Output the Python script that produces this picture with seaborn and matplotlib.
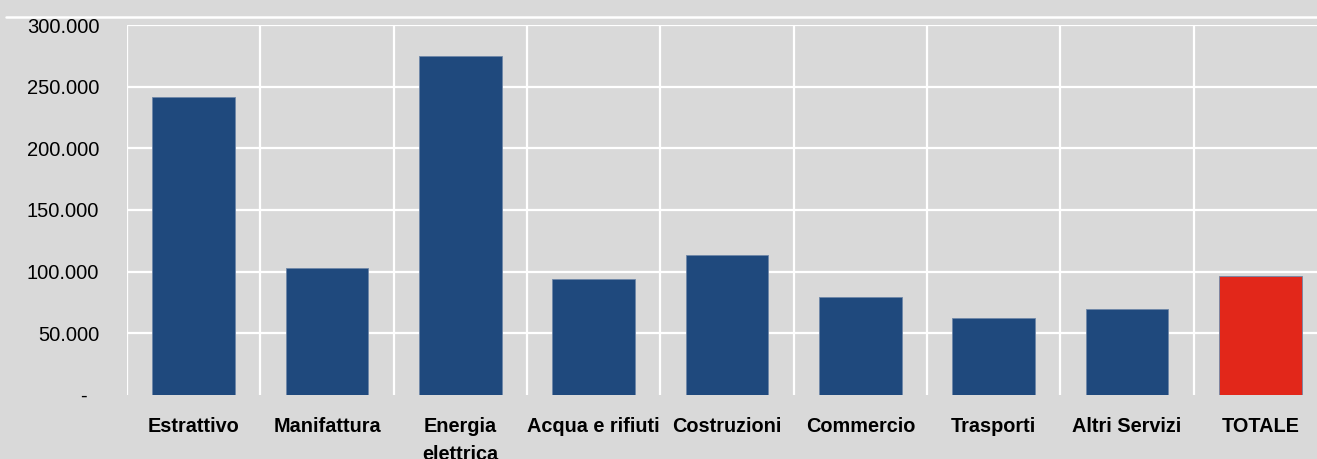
import matplotlib
matplotlib.use("Agg")
import matplotlib.pyplot as plt
from matplotlib.lines import Line2D
from matplotlib.ticker import FixedLocator
import seaborn as sns
import pandas as pd

categories = ["Estrattivo", "Manifattura", "Energia\nelettrica", "Acqua e rifiuti",
              "Costruzioni", "Commercio", "Trasporti", "Altri Servizi", "TOTALE"]
values = [241500, 103200, 275100, 94000, 113700, 79200, 62600, 69900, 96500]
bar_colors = ["#1F497D"] * 8 + ["#E2271A"]
y_ticks = [0, 50000, 100000, 150000, 200000, 250000, 300000]
y_tick_labels = ["-  ", "50.000", "100.000", "150.000", "200.000", "250.000", "300.000"]

BG = "#D9D9D9"
sns.set_theme(style="white")
plt.rcParams["font.family"] = ["Liberation Sans Narrow", "Liberation Sans", "DejaVu Sans"]

df = pd.DataFrame({"cat": categories, "val": values})

fig = plt.figure(figsize=(13.17, 4.59), dpi=100, facecolor=BG)
ax = fig.add_axes([127 / 1317, 1 - 394.8 / 459, 1200 / 1317, (394.8 - 25) / 459])
ax.set_facecolor(BG)

sns.barplot(data=df, x="cat", y="val", hue="cat", palette=bar_colors, legend=False,
            width=0.62, edgecolor="#6F87A8", linewidth=0.6, saturation=1, ax=ax)

ax.set_ylim(0, 300000)
ax.set_xlim(-0.5, len(categories) - 0.5)
ax.set_yticks(y_ticks)
ax.set_yticklabels(y_tick_labels, fontsize=14.5, color="black")
ax.set_xticks(range(len(categories)))
ax.set_xticklabels(categories, fontsize=14.3, fontweight="bold", color="black",
                   linespacing=1.6, va="top")
ax.xaxis.set_minor_locator(FixedLocator([i - 0.5 for i in range(len(categories) + 1)]))
ax.tick_params(axis="both", which="both", length=0)
ax.tick_params(axis="y", pad=20)
ax.tick_params(axis="x", pad=16)
ax.set_xlabel("")
ax.set_ylabel("")

ax.set_axisbelow(True)
ax.grid(axis="y", which="major", color="white", linewidth=1.6)
ax.grid(axis="x", which="minor", color="white", linewidth=1.6)
ax.grid(axis="x", which="major", visible=False)
for sp in ax.spines.values():
    sp.set_visible(False)
ygl = ax.yaxis.get_gridlines()
ygl[0].set_visible(False)

fig.add_artist(Line2D([6 / 1317, 1.0], [1 - 16.5 / 459, 1 - 16.5 / 459],
                      transform=fig.transFigure, color="white", linewidth=1.8))

fig.savefig("out.png", dpi=100, facecolor=BG)
